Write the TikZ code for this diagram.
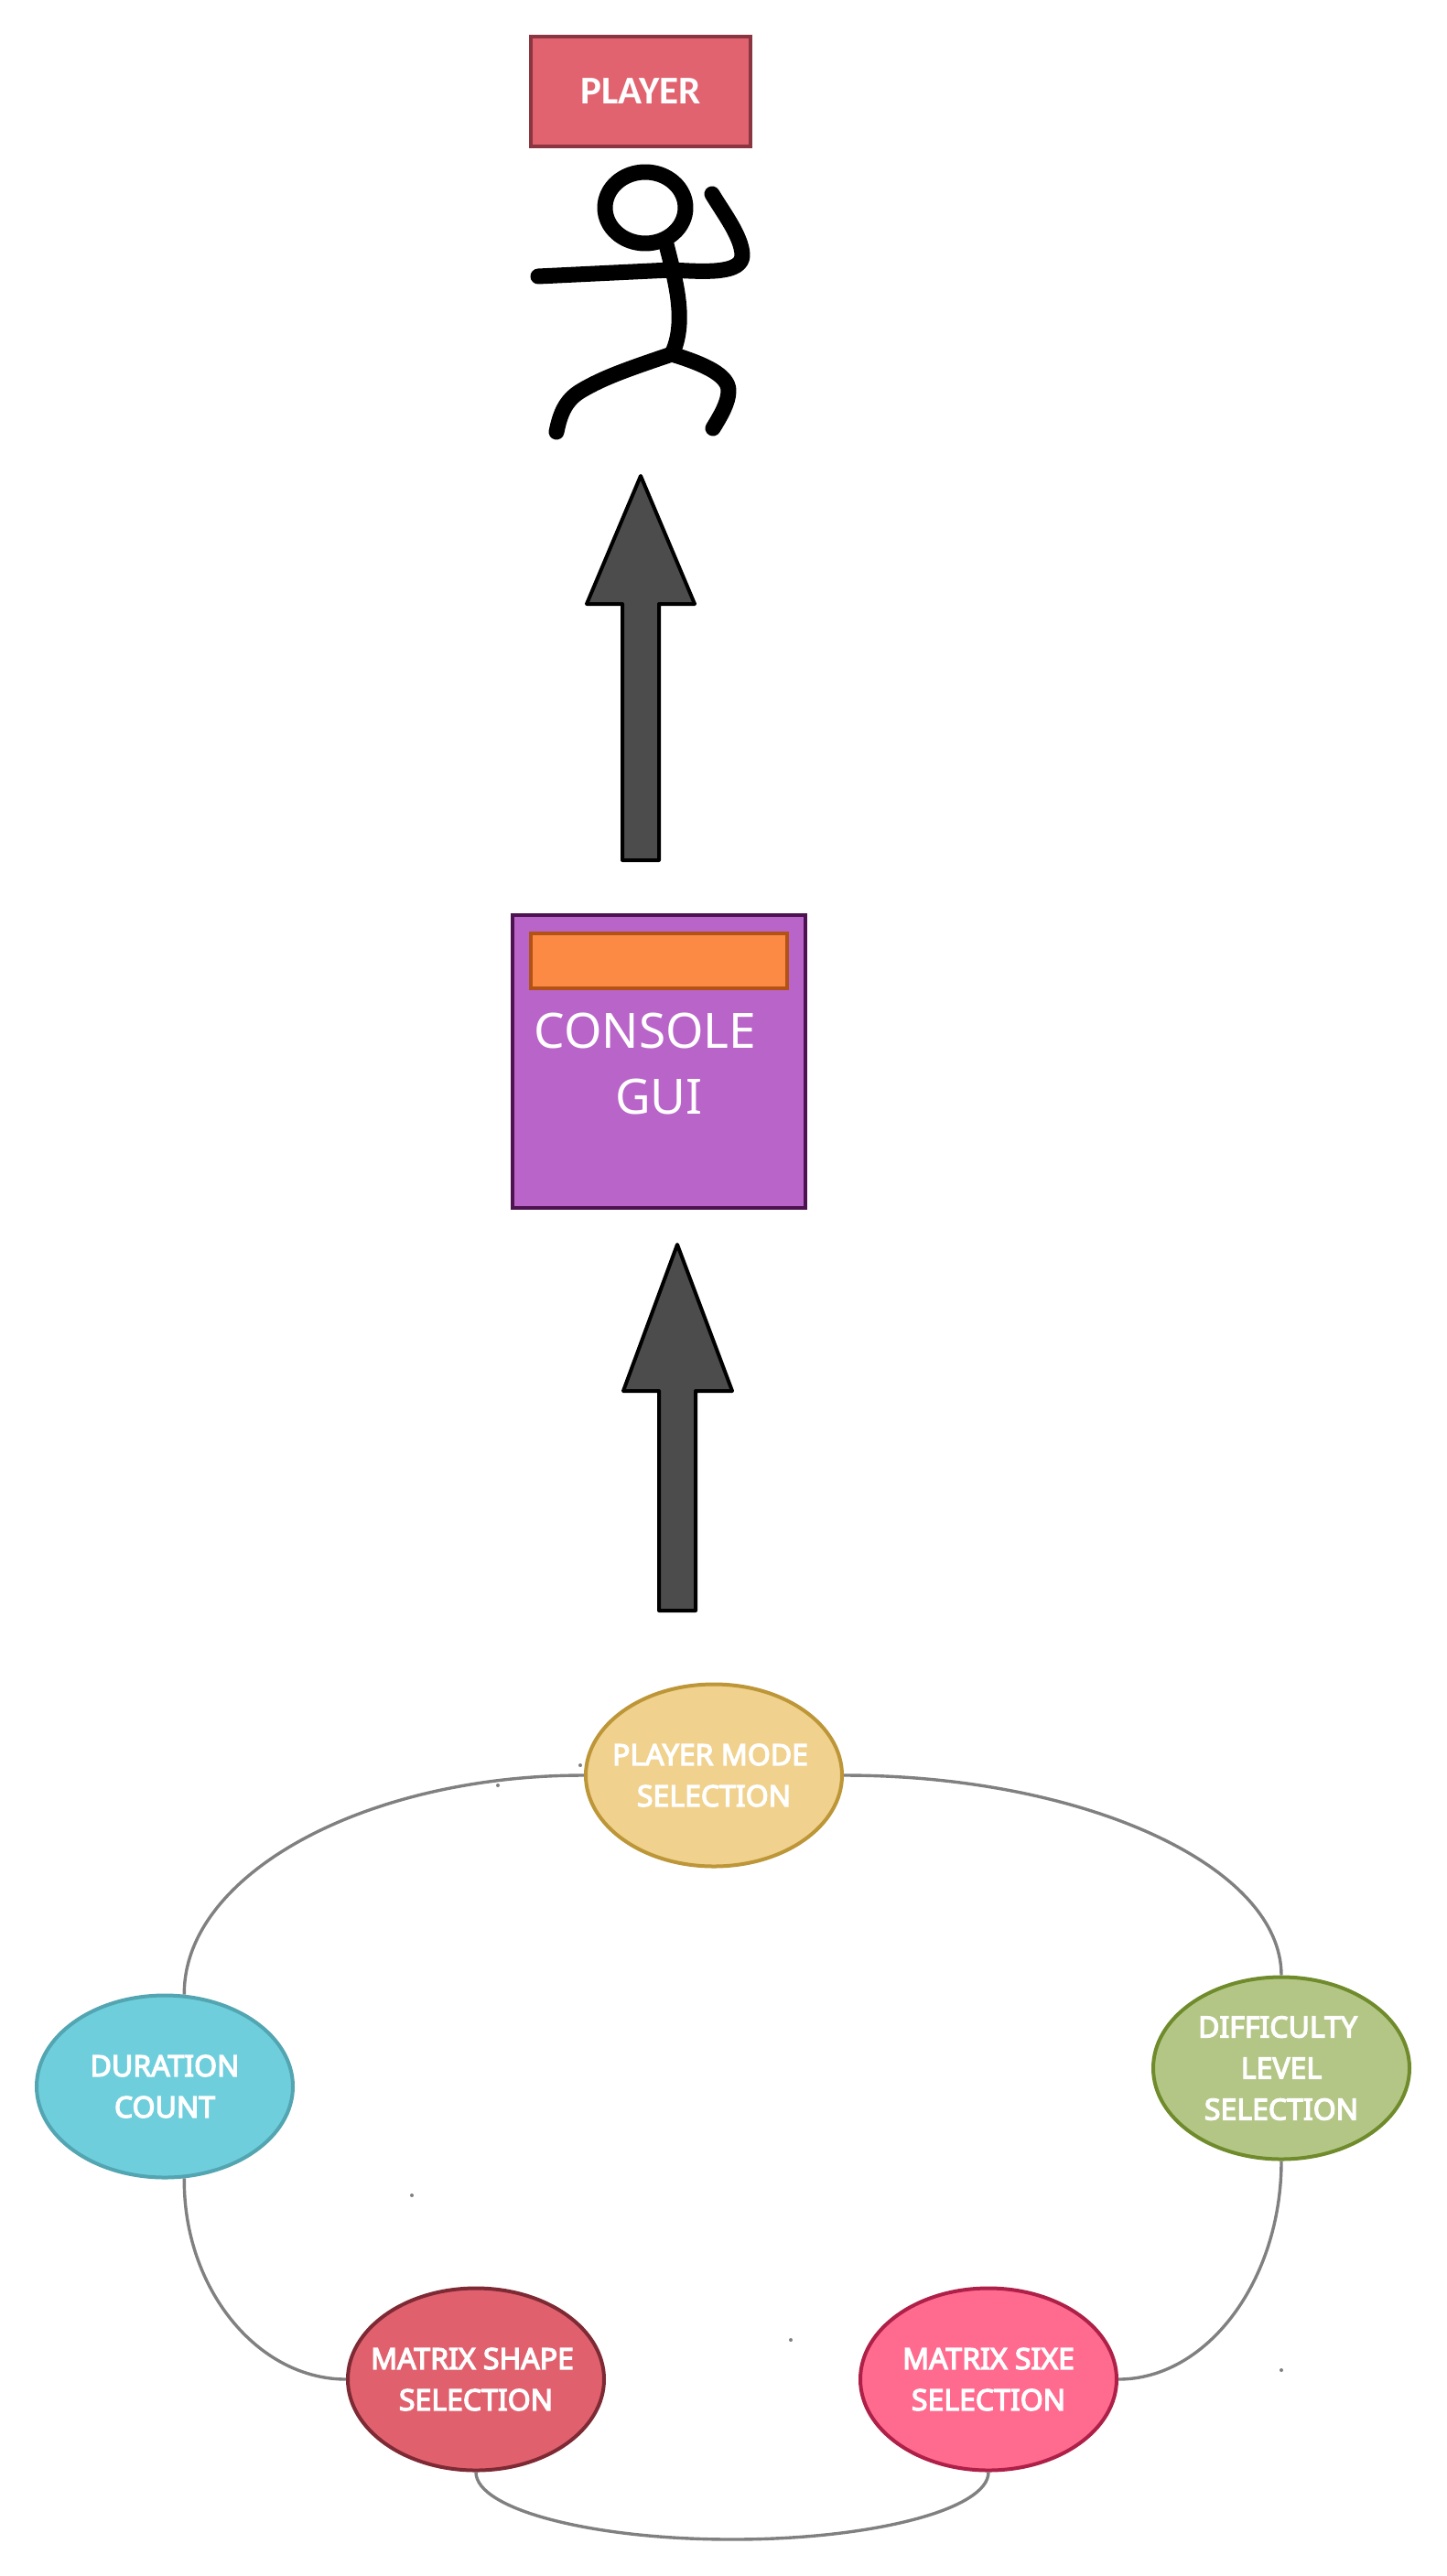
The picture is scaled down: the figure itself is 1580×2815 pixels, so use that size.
\documentclass[tikz,border=0pt]{standalone}
\usepackage{fontspec}
\setmainfont{Noto Sans}
\newfontfamily\playerfont{Carlito}
\newfontfamily\ovalfont[FakeBold=4]{Noto Sans}
\definecolor{playerfill}{HTML}{E0636F}
\definecolor{playerline}{HTML}{8B3540}
\definecolor{consolefill}{HTML}{B964C8}
\definecolor{consoleline}{HTML}{4C1350}
\definecolor{barfill}{HTML}{FC8A44}
\definecolor{barline}{HTML}{B25216}
\definecolor{modefill}{HTML}{F0D18D}
\definecolor{modeline}{HTML}{BD9638}
\definecolor{durationfill}{HTML}{6ECEDC}
\definecolor{durationline}{HTML}{52A5B1}
\definecolor{shapefill}{HTML}{E0616D}
\definecolor{shapeline}{HTML}{7E2A35}
\definecolor{sizefill}{HTML}{FF6A8F}
\definecolor{sizeline}{HTML}{AE2047}
\definecolor{levelfill}{HTML}{B3C685}
\definecolor{levelline}{HTML}{6F8B2B}
\usetikzlibrary{shapes.geometric}
\tikzset{
	box/.style={draw,line width=2pt,rectangle,inner sep=0pt,text=white},
	oval/.style={draw,line width=2pt,ellipse,inner ysep=0pt,inner xsep=-30pt,minimum width=140pt,minimum height=99.5pt,
		text=white,align=center,font=\fontsize{16}{22.5}\selectfont\ovalfont},
	link/.style={draw=gray,line width=1.7pt},
	bigarrow/.style={draw=black,fill=black!70,line width=2pt,line join=round},
	stick/.style={draw=black,line width=8.5pt,line cap=round,line join=round},
	speck/.style={fill=gray,circle,inner sep=0pt,minimum size=2pt}
}
\begin{document}
\begin{tikzpicture}[x=0.5pt,y=-0.5pt]
	\useasboundingbox (0,0) rectangle (1580,2815);
	% top
	\node[box,fill=playerfill,draw=playerline,minimum width=120pt,minimum height=60pt,
		font=\fontsize{21.5}{25}\selectfont\bfseries\playerfont] (player) at (700,100) {PLAYER};
	\draw[stick] (705,227) ellipse (44 and 39);
	\draw[stick] (728,267) .. controls (736,300) and (752,350) .. (734,387);
	\draw[stick] (588,302) -- (733,295) .. controls (770,297) and (812,300) .. (811,278) .. controls (810,258) and (790,232) .. (778,212);
	\draw[stick] (734,387) .. controls (690,402) and (660,412) .. (635,427) .. controls (618,437) and (612,452) .. (608,472);
	\draw[stick] (734,387) .. controls (770,398) and (796,410) .. (796,427) .. controls (796,440) and (787,455) .. (779,468);
	\draw[bigarrow] (700,520) -- (759,660) -- (720,660) -- (720,940) -- (680,940) -- (680,660) -- (641,660) -- cycle;
	% console
	\node[box,fill=consolefill,draw=consoleline,minimum size=160pt] (console) at (720,1160) {};
	\node[box,fill=barfill,draw=barline,minimum width=140pt,minimum height=30pt] (bar) at (720,1050) {};
	\node[text=white,font=\fontsize{26.6}{36}\selectfont] (consoletext) at (705,1126) {CONSOLE};
	\node[text=white,font=\fontsize{26.6}{36}\selectfont] (guitext) at (720,1198) {GUI};
	\draw[bigarrow] (740,1360) -- (800,1520) -- (760,1520) -- (760,1760) -- (720,1760) -- (720,1520) -- (681,1520) -- cycle;
	% ring
	\node[oval,fill=modefill,draw=modeline] (mode) at (780,1940) {PLAYER MODE\hspace*{4pt}\\SELECTION};
	\node[oval,fill=durationfill,draw=durationline] (duration) at (180,2280) {DURATION\\COUNT};
	\node[oval,fill=shapefill,draw=shapeline] (matshape) at (520,2600) {MATRIX SHAPE\hspace*{4pt}\\SELECTION};
	\node[oval,fill=sizefill,draw=sizeline] (matsize) at (1080,2600) {MATRIX SIXE\\SELECTION};
	\node[oval,fill=levelfill,draw=levelline] (level) at (1400,2260) {DIFFICULTY\hspace*{4pt}\\LEVEL\\SELECTION};
	\coordinate (low) at (800,2775);
	\draw[link] (mode.west) .. controls (398,1940) and (200,2049) .. (duration.78.6);
	\draw[link] (duration.-78.6) .. controls (200,2500) and (281,2600) .. (matshape.west);
	\draw[link] (matshape.south) .. controls (520,2742) and (646,2775) .. (low) .. controls (954,2775) and (1080,2742) .. (matsize.south);
	\draw[link] (matsize.east) .. controls (1319,2600) and (1400,2492) .. (level.south);
	\draw[link] (level.north) .. controls (1400,2039) and (1184,1940) .. (mode.east);
	% specks
	\foreach \dotx/\doty in {634/1929,544/1951,450/2399,864/2557,1400/2590}
		\node[speck] at (\dotx,\doty) {};
\end{tikzpicture}
\end{document}
